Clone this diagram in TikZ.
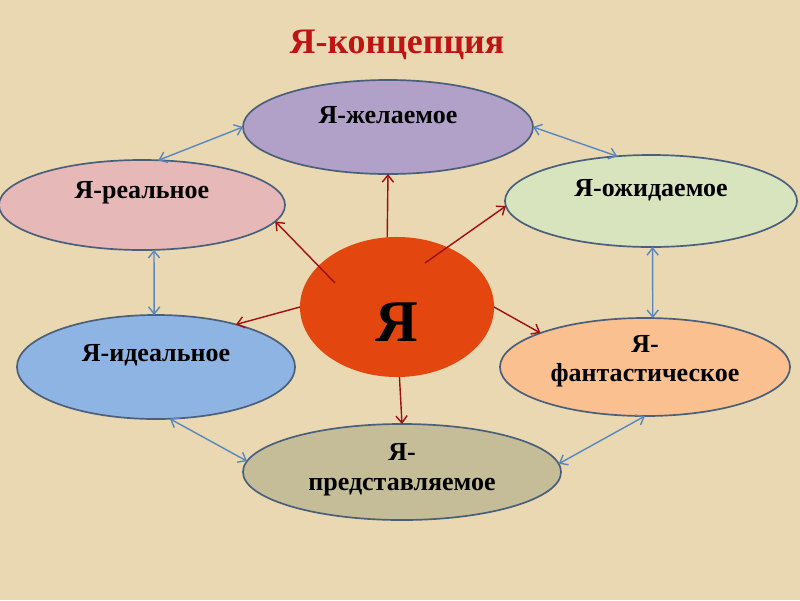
\documentclass[tikz,border=0pt]{standalone}
\usepackage{fontspec}
\setmainfont{Liberation Serif}
\usetikzlibrary{shapes.geometric,arrows.meta}
\definecolor{parch}{RGB}{233,216,178}
\definecolor{titlered}{RGB}{190,20,20}
\definecolor{ovalline}{RGB}{74,95,122}
\definecolor{linkblue}{RGB}{90,136,190}
\definecolor{raired}{RGB}{160,14,14}
\definecolor{wantc}{RGB}{177,160,199}
\definecolor{realc}{RGB}{230,185,184}
\definecolor{expc}{RGB}{215,228,189}
\definecolor{idealc}{RGB}{142,180,227}
\definecolor{fantc}{RGB}{250,192,144}
\definecolor{repc}{RGB}{196,189,151}
\definecolor{yac}{RGB}{227,71,15}
\begin{document}
\begin{tikzpicture}[x=0.025cm, y=-0.025cm,
  oval/.style={ellipse, draw=ovalline, line width=1.2pt, inner sep=0pt, outer sep=0pt},
  tag/.style={font=\fontsize{18.5}{21}\selectfont\bfseries, align=center},
  link/.style={draw=linkblue, line width=1pt, {Straight Barb[length=5pt,width=8pt]}-{Straight Barb[length=5pt,width=8pt]}},
  ray/.style={draw=raired, line width=1pt, -{Straight Barb[length=5pt,width=8pt]}}]
\fill[parch] (0,0) rectangle (800,600);
\useasboundingbox (0,0) rectangle (800,600);
\node[font=\fontsize{25.5}{28}\selectfont\bfseries, text=titlered] (title) at (397,45) {Я-концепция};
\node[oval, fill=wantc, minimum width=7.25cm, minimum height=2.35cm, label={[tag, yshift=8.5pt]center:Я-желаемое}] (want) at (388,127) {};
\node[oval, fill=realc, minimum width=7.15cm, minimum height=2.25cm, label={[tag, yshift=8.5pt]center:Я-реальное}] (real) at (142,205) {};
\node[oval, fill=expc, minimum width=7.3cm, minimum height=2.3cm, label={[tag, yshift=8pt]center:Я-ожидаемое}] (expect) at (651,201) {};
\node[oval, fill=idealc, minimum width=6.95cm, minimum height=2.6cm, label={[tag, yshift=8.5pt]center:Я-идеальное}] (ideal) at (156,367) {};
\node[oval, fill=fantc, minimum width=7.25cm, minimum height=2.45cm, label={[tag, yshift=4pt]center:Я-\\фантастическое}] (fant) at (645,367) {};
\node[oval, fill=repc, minimum width=7.95cm, minimum height=2.4cm, label={[tag, yshift=1.5pt]center:Я-\\представляемое}] (repr) at (402,472) {};
\node[ellipse, fill=yac, inner sep=0pt, outer sep=0pt, minimum width=4.85cm, minimum height=3.5cm, label={[font=\fontsize{42}{44}\selectfont\bfseries, yshift=-11pt]center:Я}] (ya) at (397,307) {};
\coordinate (yaNW) at ([shift={(-62,-24)}]ya.center);
\coordinate (yaNE) at ([shift={(28,-44)}]ya.center);
\draw[link] (real.70) -- (want.180);
\draw[link] (want.0) -- (expect.127);
\draw[link] (real.-75) -- (ideal.92);
\draw[link] (expect.-88) -- (fant.81);
\draw[link] (ideal.-75) -- (repr.176);
\draw[link] (repr.3) -- (fant.-90);
\draw[ray] (ya.98) -- (want.south);
\draw[ray] (yaNW) -- (real.-7);
\draw[ray] (yaNE) -- (expect.182);
\draw[ray] (ya.west) -- (ideal.28);
\draw[ray] (ya.east) -- (fant.162);
\draw[ray] (ya.-88) -- (repr.north);
\end{tikzpicture}
\end{document}
